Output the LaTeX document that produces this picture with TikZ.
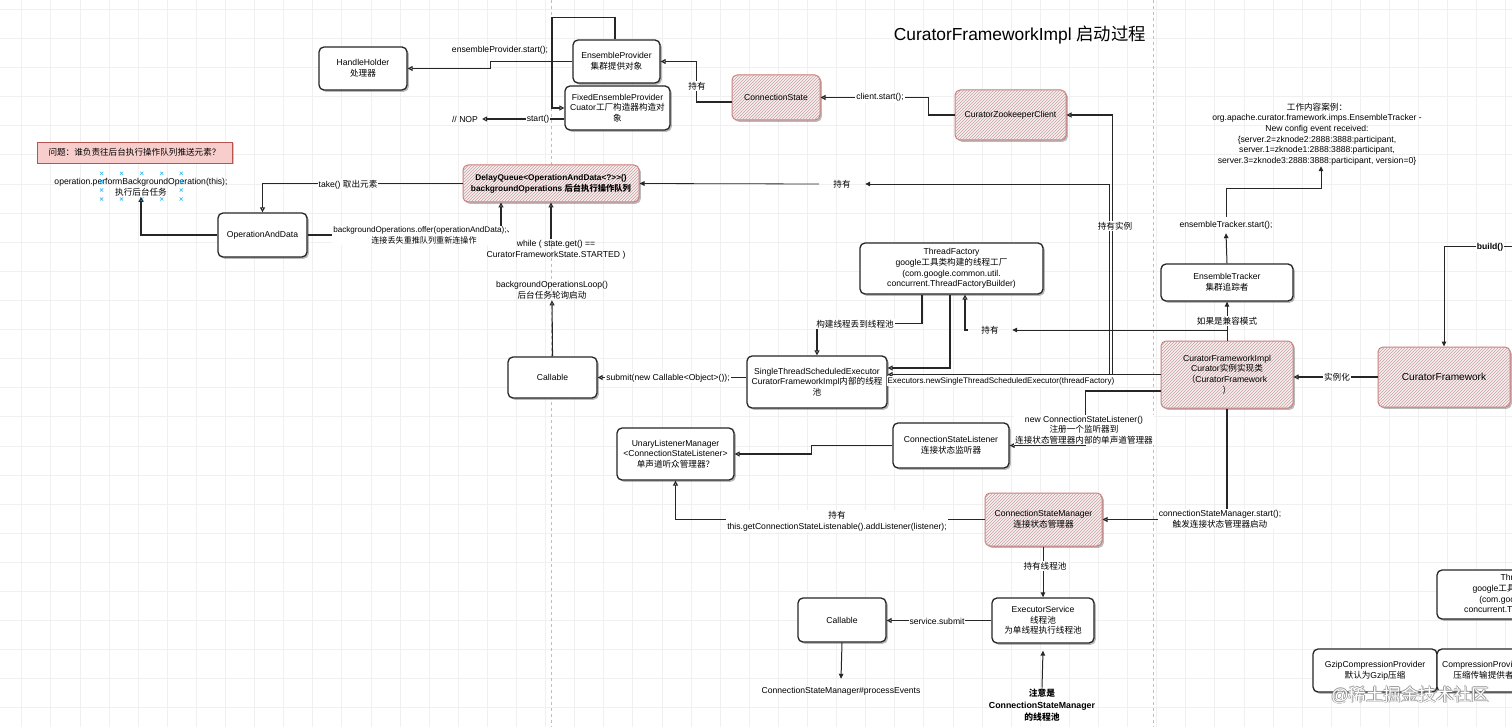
\documentclass[tikz,border=0pt]{standalone}
\usepackage{fontspec}
\setmainfont{Liberation Sans}
\newfontfamily\cjk{Noto Sans CJK SC}
\newcommand\zh[1]{{\cjk #1}}
\usetikzlibrary{arrows.meta,shadows,patterns,calc}
\newcommand\fsz{\fontsize{8.6}{10.6}\selectfont}
\definecolor{gridc}{RGB}{240,240,240}
\definecolor{hatchc}{RGB}{205,160,160}
\definecolor{hborder}{RGB}{205,120,120}
\definecolor{hfill}{RGB}{245,241,241}
\definecolor{qfill}{RGB}{248,206,204}
\definecolor{qdraw}{RGB}{184,84,80}
\definecolor{hdlc}{RGB}{41,182,242}
\tikzset{
  box/.style={draw=black!85, line width=1.3pt, rounded corners=5pt, fill=white, align=center, font=\fsz, inner sep=1pt,
     drop shadow={shadow xshift=1.8pt, shadow yshift=-1.8pt, opacity=0.45, fill=black!60}},
  hbox/.style={box, draw=hborder, line width=1pt, fill=hfill, postaction={pattern=north east lines, pattern color=hatchc}},
  txt/.style={align=center, font=\fsz, inner sep=1pt},
  lbl/.style={align=center, font=\fsz, inner sep=1pt, fill=white},
  arr/.style={draw=black!85, line width=1.1pt, -{Triangle[open, length=5pt, width=5pt]}},
  arrf/.style={draw=black!85, line width=1pt, -{Triangle[length=5pt, width=4.5pt]}},
  hdl/.style={draw=hdlc, line width=0.5pt},
}
\begin{document}
\begin{tikzpicture}[x=1pt,y=-1pt]
\useasboundingbox (0,0) rectangle (1512,727);
\begin{scope}
\clip (0,0) rectangle (1512,727);
\fill[white] (0,0) rectangle (1512,727);
% grid
\foreach \i in {0,...,51} \draw[gridc, line width=0.8pt] (21.7+29.1*\i,0) -- (21.7+29.1*\i,727);
\foreach \j in {0,...,24} \draw[gridc, line width=0.8pt] (0,9.4+29.1*\j) -- (1512,9.4+29.1*\j);
\draw[black!25, dashed, line width=0.5pt] (551,0) -- (551,727);
\draw[black!25, dashed, line width=0.5pt] (1153,0) -- (1153,727);

% title
\node[font=\fontsize{17.4}{20}\selectfont] (title) at (1020,35) {CuratorFrameworkImpl \zh{启动过程}};

% nodes
\node[box, minimum width=88, minimum height=43] (hh) at (363,68.5) {HandleHolder\\\zh{处理器}};
\node[box, minimum width=87, minimum height=43] (ep) at (616.5,61.5) {EnsembleProvider\\\zh{集群提供对象}};
\node[box, minimum width=105, minimum height=44] (fep) at (617.5,108) {FixedEnsembleProvider\\Cuator\zh{工厂构造器构造对}\\\zh{象}};
\node[hbox, minimum width=88, minimum height=45] (cs) at (776,97.5) {ConnectionState};
\node[hbox, minimum width=111, minimum height=50] (czc) at (1010.5,115) {CuratorZookeeperClient};
\node[txt, inner xsep=4pt] (nop) at (465,119) {// NOP};

\node[draw=qdraw, fill=qfill, line width=0.8pt, font=\fsz, minimum width=195, minimum height=21,
   drop shadow={shadow xshift=1.5pt, shadow yshift=-1.5pt, opacity=0.35, fill=black!60}] (q) at (134.5,152.5)
   {\zh{问题：谁负责往后台执行操作队列推送元素？}};
\node[txt] (op) at (141,187) {operation.performBackgroundOperation(this);\\\zh{执行后台任务}};
\node[box, minimum width=89, minimum height=44] (oad) at (262.5,235) {OperationAndData};
\node[hbox, minimum width=176, minimum height=37, font=\fontsize{8.3}{10.8}\selectfont\bfseries] (dq) at (551,183.5)
   {DelayQueue<OperationAndData<?>{}>()\\backgroundOperations \zh{后台执行操作队列}};
\node[txt, minimum width=46] (hold1) at (842,184) {\zh{持有}};
\node[txt] (bgloop) at (552,290.5) {backgroundOperationsLoop()\\\zh{后台任务轮询启动}};
\node[box, minimum width=89, minimum height=41] (call1) at (552.5,377.5) {Callable};
\node[box, minimum width=140, minimum height=52] (stse) at (817,382) {SingleThreadScheduledExecutor\\CuratorFrameworkImpl\zh{内部的线程}\\\zh{池}};
\node[box, minimum width=183, minimum height=51] (tf) at (951.5,268.5) {ThreadFactory\\google\zh{工具类构建的线程工厂}\\(com.google.common.util.\\concurrent.ThreadFactoryBuilder)};
\node[txt, minimum width=44] (hold2) at (990,330) {\zh{持有}};
\node[box, minimum width=132, minimum height=37] (et) at (1227,282.5) {EnsembleTracker\\\zh{集群追踪者}};
\node[txt, inner ysep=4pt] (ets) at (1226,225) {ensembleTracker.start();};
\node[txt] (work) at (1317,134) {\zh{工作内容案例：}\\org.apache.curator.framework.imps.EnsembleTracker -\\New config event received:\\\{server.2=zknode2:2888:3888:participant,\\server.1=zknode1:2888:3888:participant,\\server.3=zknode3:2888:3888:participant, version=0\}};
\node[hbox, minimum width=132, minimum height=67] (cfi) at (1227,374.5) {CuratorFrameworkImpl\\Curator\zh{实例实现类}\\\zh{（}CuratorFramework\\\zh{）}};
\node[hbox, minimum width=132, minimum height=60, font=\fontsize{10.1}{12}\selectfont] (cf) at (1444,377) {CuratorFramework};
\coordinate (bsrc) at (1530,247);
\node[box, minimum width=116, minimum height=45] (csl) at (951,445.5) {ConnectionStateListener\\\zh{连接状态监听器}};
\node[box, minimum width=117, minimum height=52] (ulm) at (675.5,454) {UnaryListenerManager\\<ConnectionStateListener>\\\zh{单声道听众管理器？}};
\node[hbox, minimum width=117, minimum height=53] (csm) at (1043.5,519.5) {ConnectionStateManager\\\zh{连接状态管理器}};
\node[box, minimum width=102, minimum height=45] (es) at (1043,620.5) {ExecutorService\\\zh{线程池}\\\zh{为单线程执行线程池}};
\node[box, minimum width=88, minimum height=44] (call2) at (842,620) {Callable};
\node[txt] (pe) at (841,691) {ConnectionStateManager\#processEvents};
\node[txt, font=\fontsize{8.8}{12}\selectfont\bfseries] (note) at (1042,705) {\zh{注意是}\\ConnectionStateManager\\\zh{的线程池}};
\node[box, minimum width=124, minimum height=43] (gzip) at (1375,670.5) {GzipCompressionProvider\\\zh{默认为}Gzip\zh{压缩}};
\node[box, minimum width=93, minimum height=43] (cp) at (1483.5,670.5) {CompressionProvider\\\zh{压缩传输提供者}};
\node[box, minimum width=183, minimum height=49] (tf2) at (1528.5,594.5) {ThreadFactory\\google\zh{工具类构建的线程工厂}\\(com.google.common.util.\\concurrent.ThreadFactoryBuilder)};

% selection handles
\foreach \x in {101.6,121.5,141.8,161.7,181.2} {
  \foreach \y in {173.3,199} {\draw[hdl] (\x,\y) ++(-1.6,-1.6) -- ++(3.2,3.2) ++(0,-3.2) -- ++(-3.2,3.2);}
}
\foreach \x in {101.6,181.2} {
  \foreach \y in {181.7,190} {\draw[hdl] (\x,\y) ++(-1.6,-1.6) -- ++(3.2,3.2) ++(0,-3.2) -- ++(-3.2,3.2);}
}

% edges
\draw[arr] (ep.west) -- ++(-82,0) |- (hh.east);
\draw[arr] ([yshift=-11pt]fep.west) -- (nop.east);
\draw[arr] ([xshift=-1.5pt]ep.north) -- ++(0,-22) -- ++(-63,0) |- (fep.west);
\draw[arr] ([yshift=-4.5pt]cs.west) -- ++(-35,0) |- (ep.east);
\draw[arr] (czc.west) -- ++(-26,0) |- (cs.east);
\draw[arr] (cfi.west) -- ++(-48,0) |- (czc.east);
\draw[arrf, line width=0.8pt] (cfi.west) -- ++(-51,0) |- (hold1.east);
\draw[arrf, line width=0.8pt] (hold1.west) -- (dq.east);
\draw[arr] (dq.west) -| (oad.north);
\draw[arr] (oad.west) -| (op.south);
\draw[arr] (oad.east) -| ([xshift=-50pt]dq.south);
\draw[arr] (call1.north) -- (bgloop.south);
\draw[arr] (stse.west |- call1.east) -- (call1.east);
\draw[arr] ([xshift=-29.5pt]tf.south) -- ++(0,29) -| (stse.north);
\draw[arr] ([xshift=-1.5pt]tf.south) |- ([yshift=14pt]stse.east);
\draw[arr] (cfi.west) -- (cfi.west -| stse.east);
\draw[arrf] (cfi.north) -- (et.south);
\draw[arrf, line width=0.8pt] (cfi.north) |- (hold2.east);
\draw[arr] (hold2.west) -| ([xshift=13.5pt]tf.south);
\draw[arrf] (et.north) -- (ets.south);
\draw[arrf] (ets.north) -- ++(0,-28) -| ([xshift=4pt]work.south);
\draw[arr] (cf.west) -- (cf.west -| cfi.east);
\draw[arrf] (bsrc) -| (cf.north);
\draw[arr] ([yshift=-16.5pt]cfi.west) -- ++(-75,0) |- (csl.east);
\draw[arr] (csl.west) -- ++(-81,0) |- (ulm.east);
\draw[arr] (csm.west) -| (ulm.south);
\draw[arr] (cfi.south) |- (csm.east);
\draw[arrf] (csm.south -| es.north) -- (es.north);
\draw[arr] (es.west) -- (es.west -| call2.east);
\draw[arrf] (call2.south) -- ([yshift=7pt]pe.north);
\draw[arrf] (note.north) -- ([yshift=-7pt]es.south);

% edge labels
\node[txt] (l1) at (500,50) {ensembleProvider.start();};
\node[lbl] (l2) at (538,119) {start()};
\node[lbl] (l3) at (697,86) {\zh{持有}};
\node[lbl] (l4) at (880,97.5) {client.start();};
\node[lbl] (l5) at (1115,226) {\zh{持有实例}};
\node[lbl] (l6) at (348,185) {take() \zh{取出元素}};
\node[lbl, font=\fontsize{8.1}{10.4}\selectfont] (l7) at (424,235.5) {backgroundOperations.offer(operationAndData);\zh{、}\\\zh{连接丢失重推队列重新连操作}};
\node[lbl] (l8) at (668,378) {submit(new Callable<Object>());};
\node[lbl] (l9) at (855,324) {\zh{构建线程丢到线程池}};
\node[lbl, font=\fontsize{8.1}{10}\selectfont] (l10) at (1001,381) {Executors.newSingleThreadScheduledExecutor(threadFactory)};
\node[lbl] (l11) at (1227,321) {\zh{如果是兼容模式}};
\node[lbl] (l12) at (1337,377) {\zh{实例化}};
\node[lbl, font=\fsz\bfseries] (l13) at (1490,247) {build()};
\node[lbl] (l14) at (1084,430) {new ConnectionStateListener()\\\zh{注册一个监听器到}\\\zh{连接状态管理器内部的单声道管理器}};
\node[lbl] (l15) at (837,521) {\zh{持有}\\this.getConnectionStateListenable().addListener(listener);};
\node[lbl] (l16) at (1220,519) {connectionStateManager.start();\\\zh{触发连接状态管理器启动}};
\node[lbl] (l17) at (1045,566) {\zh{持有线程池}};
\node[lbl] (l18) at (937,621) {service.submit};

% while label (on top) and its connector
\node[txt] (while) at (556,250) {while ( state.get() ==\\CuratorFrameworkState.STARTED )};
\draw[arr] (while.north -| dq.south) -- (dq.south);

% watermark
\node[font=\fontsize{17.5}{20}\selectfont, text=black!40] (wm1) at (1409.3,695) {@\zh{稀土掘金技术社区}};
\node[font=\fontsize{17.5}{20}\selectfont, text=black!40] (wm2) at (1410.7,695) {@\zh{稀土掘金技术社区}};
\node[font=\fontsize{17.5}{20}\selectfont, text=black!40] (wm3) at (1410,694.3) {@\zh{稀土掘金技术社区}};
\node[font=\fontsize{17.5}{20}\selectfont, text=black!40] (wm4) at (1410,695.7) {@\zh{稀土掘金技术社区}};
\node[font=\fontsize{17.5}{20}\selectfont, text=white] (wm) at (1410,695) {@\zh{稀土掘金技术社区}};
\end{scope}
\end{tikzpicture}
\end{document}
